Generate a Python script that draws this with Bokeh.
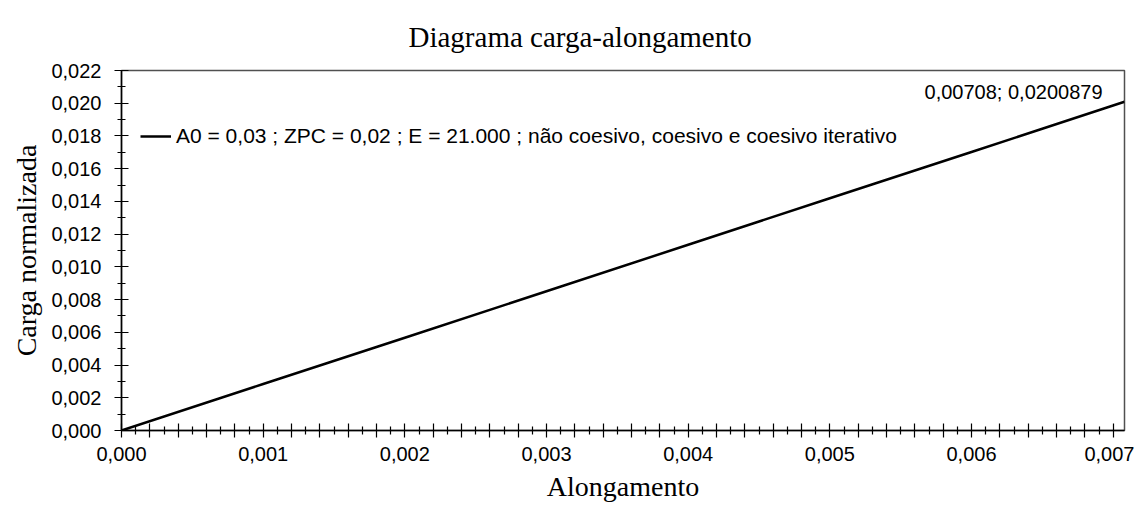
from bokeh.plotting import figure
from bokeh.models import (FixedTicker, CustomJSTickFormatter, Legend, LegendItem,
                          Label, Range1d, Title)
from bokeh.embed import file_html
from bokeh.resources import INLINE

# ---- data ----
alongamento = [0.0, 0.001, 0.002, 0.003, 0.004, 0.005, 0.006, 0.00708]
carga = [0.0, 0.00284, 0.00567, 0.00851, 0.01135, 0.01419, 0.01702, 0.0200879]
series_label = "A0 = 0,03 ; ZPC = 0,02 ; E = 21.000 ; não coesivo, coesivo e coesivo iterativo"
end_label = "0,00708; 0,0200879"

x_tick_values = [0.0, 0.001, 0.002, 0.003, 0.004, 0.005, 0.006, 0.007]
x_tick_labels = ["0,000", "0,001", "0,002", "0,003", "0,004", "0,005", "0,006", "0,007"]
y_tick_values = [0.0, 0.002, 0.004, 0.006, 0.008, 0.010, 0.012, 0.014, 0.016, 0.018, 0.020, 0.022]
y_tick_labels = ["0,000", "0,002", "0,004", "0,006", "0,008", "0,010", "0,012",
                 "0,014", "0,016", "0,018", "0,020", "0,022"]

title_text = "Diagrama carga-alongamento"
x_title = "Alongamento"
y_title = "Carga normalizada"

SANS = "Liberation Sans"
SERIF = "Liberation Serif"

p = figure(width=1134, height=509, output_backend="svg", toolbar_location=None,
           x_range=Range1d(0, 0.00708), y_range=Range1d(0, 0.022),
           min_border_left=121, min_border_right=10, min_border_top=70, min_border_bottom=79)
p.xgrid.visible = False
p.ygrid.visible = False
p.outline_line_color = "#505050"
p.outline_line_width = 1.5

p.add_layout(Title(text=title_text, align="left", offset=287, standoff=31, vertical_align="top",
                   text_font=SERIF, text_font_size="29px", text_font_style="normal",
                   text_color="black"), "above")

r = p.line(alongamento, carga, line_color="black", line_width=2.5)

# ticks
xmaj = [i * 0.0002 for i in range(0, 36)]
xmin = [i * 0.0001 for i in range(1, 71, 2)]
p.xaxis.ticker = FixedTicker(ticks=xmaj, minor_ticks=xmin)
p.xaxis.formatter = CustomJSTickFormatter(args=dict(vals=x_tick_values, labels=x_tick_labels), code="""
const i = vals.findIndex(v => Math.abs(v - tick) < 1e-9);
return i >= 0 ? labels[i] : "";
""")
ymin = [i * 0.001 for i in range(1, 22, 2)]
p.yaxis.ticker = FixedTicker(ticks=y_tick_values, minor_ticks=ymin)
p.yaxis.formatter = CustomJSTickFormatter(args=dict(vals=y_tick_values, labels=y_tick_labels), code="""
const i = vals.findIndex(v => Math.abs(v - tick) < 1e-9);
return i >= 0 ? labels[i] : "";
""")

for ax in (p.xaxis[0], p.yaxis[0]):
    ax.axis_line_color = "black"
    ax.axis_line_width = 1.5
    ax.major_tick_line_color = "black"
    ax.minor_tick_line_color = "black"
    ax.major_tick_line_width = 1.2
    ax.minor_tick_line_width = 1.2
    ax.major_tick_in = 7
    ax.major_tick_out = 7
    ax.minor_tick_in = 4
    ax.minor_tick_out = 4
    ax.major_label_text_font = SANS
    ax.major_label_text_font_size = "20px"
    ax.major_label_text_color = "black"
    ax.axis_label_text_font = SERIF
    ax.axis_label_text_font_size = "28px"
    ax.axis_label_text_font_style = "normal"
    ax.axis_label_text_color = "black"

p.xaxis.axis_label = x_title
p.yaxis.axis_label = y_title
p.xaxis.major_label_standoff = 9
p.yaxis.major_label_standoff = 13
p.xaxis.axis_label_standoff = 7
p.yaxis.axis_label_standoff = 6

legend = Legend(items=[LegendItem(label=series_label, renderers=[r])],
                location=(19, 282), padding=0, margin=0, border_line_color=None,
                background_fill_alpha=0, glyph_width=31, glyph_height=20, label_standoff=5,
                label_text_font=SANS, label_text_font_size="21px", label_text_color="black")
p.add_layout(legend, "center")

lab = Label(x=alongamento[-1], y=carga[-1], text=end_label, text_align="right",
            text_baseline="bottom", x_offset=-22, y_offset=-1, text_font=SANS,
            text_font_size="20px", text_color="black")
p.add_layout(lab)

open("out.html", "w").write(file_html(p, INLINE))
